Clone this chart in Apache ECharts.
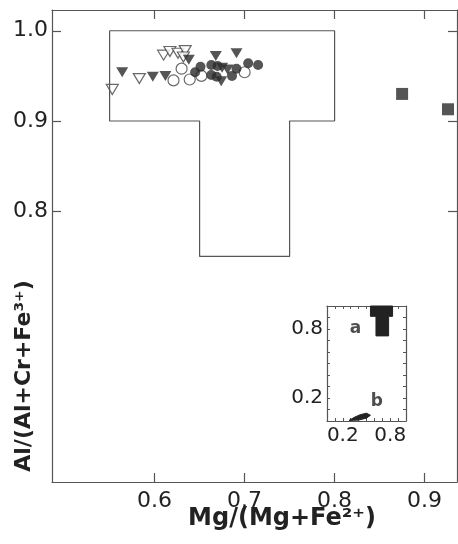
<!DOCTYPE html>
<html>
<head>
<meta charset="utf-8">
<script src="https://cdn.jsdelivr.net/npm/echarts@6/dist/echarts.min.js"></script>
<style>
html,body{margin:0;padding:0;background:#fff;}
#c{width:458px;height:544px;}
</style>
</head>
<body>
<div id="c"></div>
<script>
// ---- data ----
const xTicks = [0.6, 0.7, 0.8, 0.9];
const yTicks = [0.8, 0.9, 1.0];
const insetTicks = [0.2, 0.8];
const insetMinor = [0, 0.1, 0.2, 0.3, 0.4, 0.5, 0.6, 0.7, 0.8, 0.9, 1.0];

// T-shaped field outline
const tField = [[0.55, 1.0], [0.80, 1.0], [0.80, 0.90], [0.75, 0.90], [0.75, 0.75],
                [0.65, 0.75], [0.65, 0.90], [0.55, 0.90], [0.55, 1.0]];

const openTriangles = [[0.553, 0.935], [0.583, 0.947], [0.610, 0.973], [0.617, 0.977],
                       [0.626, 0.975], [0.634, 0.978], [0.632, 0.971]];
const filledTriangles = [[0.564, 0.954], [0.598, 0.949], [0.612, 0.950], [0.638, 0.968],
                         [0.668, 0.972], [0.691, 0.975], [0.675, 0.959], [0.681, 0.957],
                         [0.674, 0.944]];
const openCircles = [[0.621, 0.945], [0.630, 0.958], [0.639, 0.946], [0.652, 0.950],
                     [0.700, 0.954]];
const filledCircles = [[0.645, 0.954], [0.651, 0.960], [0.663, 0.962], [0.670, 0.961],
                       [0.691, 0.958], [0.704, 0.964], [0.715, 0.962], [0.663, 0.951],
                       [0.669, 0.949], [0.686, 0.950]];
const filledSquares = [[0.875, 0.930], [0.926, 0.913]];

// inset fields
const regionA = [[0.55, 1.0], [0.83, 1.0], [0.83, 0.91], [0.78, 0.91], [0.78, 0.74],
                 [0.62, 0.74], [0.62, 0.91], [0.55, 0.91]];
const regionB = [[0.28, 0.005], [0.34, 0.03], [0.42, 0.055], [0.50, 0.068], [0.55, 0.05],
                 [0.50, 0.025], [0.40, 0.008]];
const insetLabels = [{ name: 'a', value: [0.36, 0.80] }, { name: 'b', value: [0.63, 0.17] }];

// ---- chart ----
const FONT = 'DejaVu Sans';
const TXT = '#222';
const LINE = '#555';
const chart = echarts.init(document.getElementById('c'));

function mainAxisX(pos, showLabel) {
  return {
    type: 'value', gridIndex: 0, position: pos, min: 0.486, max: 0.936,
    axisLine: { show: true, onZero: false, lineStyle: { color: LINE, width: 1.2 } },
    axisTick: { show: true, inside: true, length: 9, customValues: xTicks, lineStyle: { color: LINE, width: 1.2 } },
    axisLabel: { show: showLabel, customValues: xTicks, margin: 8, fontFamily: FONT, fontSize: 22, color: TXT,
                 formatter: v => v.toFixed(1) },
    splitLine: { show: false }
  };
}
function mainAxisY(pos, showLabel) {
  return {
    type: 'value', gridIndex: 0, position: pos, min: 0.5, max: 1.023,
    axisLine: { show: true, onZero: false, lineStyle: { color: LINE, width: 1.2 } },
    axisTick: { show: true, inside: true, length: 9, customValues: yTicks, lineStyle: { color: LINE, width: 1.2 } },
    axisLabel: { show: showLabel, customValues: yTicks, margin: 4, fontFamily: FONT, fontSize: 22, color: TXT,
                 formatter: v => v.toFixed(1) },
    splitLine: { show: false }
  };
}
function insetAxis(type, pos, showLabel) {
  return {
    type: 'value', gridIndex: 1, position: pos, min: 0, max: 1,
    axisLine: { show: true, onZero: false, lineStyle: { color: LINE, width: 1.2 } },
    axisTick: { show: true, inside: true, length: 3, customValues: insetMinor, lineStyle: { color: LINE, width: 1 } },
    axisLabel: { show: showLabel, customValues: insetTicks, margin: type === 'x' ? 5 : 4, fontFamily: FONT,
                 fontSize: 20, color: TXT, formatter: v => v.toFixed(1) },
    splitLine: { show: false }
  };
}

function polygonSeries(pts, color) {
  return {
    type: 'custom', xAxisIndex: 2, yAxisIndex: 2, data: [0], silent: true,
    renderItem: (params, api) => ({
      type: 'polygon',
      shape: { points: pts.map(p => api.coord(p)) },
      style: { fill: color, stroke: color, lineWidth: 1 }
    })
  };
}

const option = {
  backgroundColor: '#fff',
  animation: false,
  grid: [
    { left: 52, right: 1, top: 10, bottom: 62 },
    { left: 327, right: 52, top: 306, bottom: 123 }
  ],
  xAxis: [mainAxisX('bottom', true), mainAxisX('top', false),
          insetAxis('x', 'bottom', true), insetAxis('x', 'top', false)],
  yAxis: [mainAxisY('left', true), mainAxisY('right', false),
          insetAxis('y', 'left', true), insetAxis('y', 'right', false)],
  series: [
    { type: 'line', xAxisIndex: 0, yAxisIndex: 0, data: tField, symbol: 'none',
      lineStyle: { color: LINE, width: 1.2 } },
    { type: 'scatter', xAxisIndex: 0, yAxisIndex: 0, data: openTriangles, symbol: 'triangle',
      symbolRotate: 180, symbolSize: [12, 10], itemStyle: { color: '#fff', borderColor: '#444', borderWidth: 1.2 } },
    { type: 'scatter', xAxisIndex: 0, yAxisIndex: 0, data: filledTriangles, symbol: 'triangle',
      symbolRotate: 180, symbolSize: [12, 10], itemStyle: { color: '#2a2a2a' } },
    { type: 'scatter', xAxisIndex: 0, yAxisIndex: 0, data: openCircles, symbol: 'circle',
      symbolSize: 11, itemStyle: { color: '#fff', borderColor: '#444', borderWidth: 1.2 } },
    { type: 'scatter', xAxisIndex: 0, yAxisIndex: 0, data: filledCircles, symbol: 'circle',
      symbolSize: 10, itemStyle: { color: '#2a2a2a' } },
    { type: 'scatter', xAxisIndex: 0, yAxisIndex: 0, data: filledSquares, symbol: 'rect',
      symbolSize: 12, itemStyle: { color: '#2a2a2a' } },
    polygonSeries(regionA, '#222'),
    polygonSeries(regionB, '#222'),
    { type: 'scatter', xAxisIndex: 2, yAxisIndex: 2, data: insetLabels, symbolSize: 0,
      label: { show: true, position: 'inside', formatter: p => p.name, fontFamily: FONT,
               fontWeight: 'bold', fontSize: 17, color: TXT } }
  ],
  graphic: [
    { type: 'text', x: 24, y: 376, rotation: Math.PI / 2,
      style: { text: 'Al/(Al+Cr+Fe³⁺)', fontFamily: FONT, fontWeight: 'bold', fontSize: 22,
               fill: TXT, align: 'center', verticalAlign: 'middle' } },
    { type: 'text', x: 282, y: 519,
      style: { text: 'Mg/(Mg+Fe²⁺)', fontFamily: FONT, fontWeight: 'bold', fontSize: 24,
               fill: TXT, align: 'center', verticalAlign: 'middle' } }
  ]
};
chart.setOption(option);
</script>
</body>
</html>
